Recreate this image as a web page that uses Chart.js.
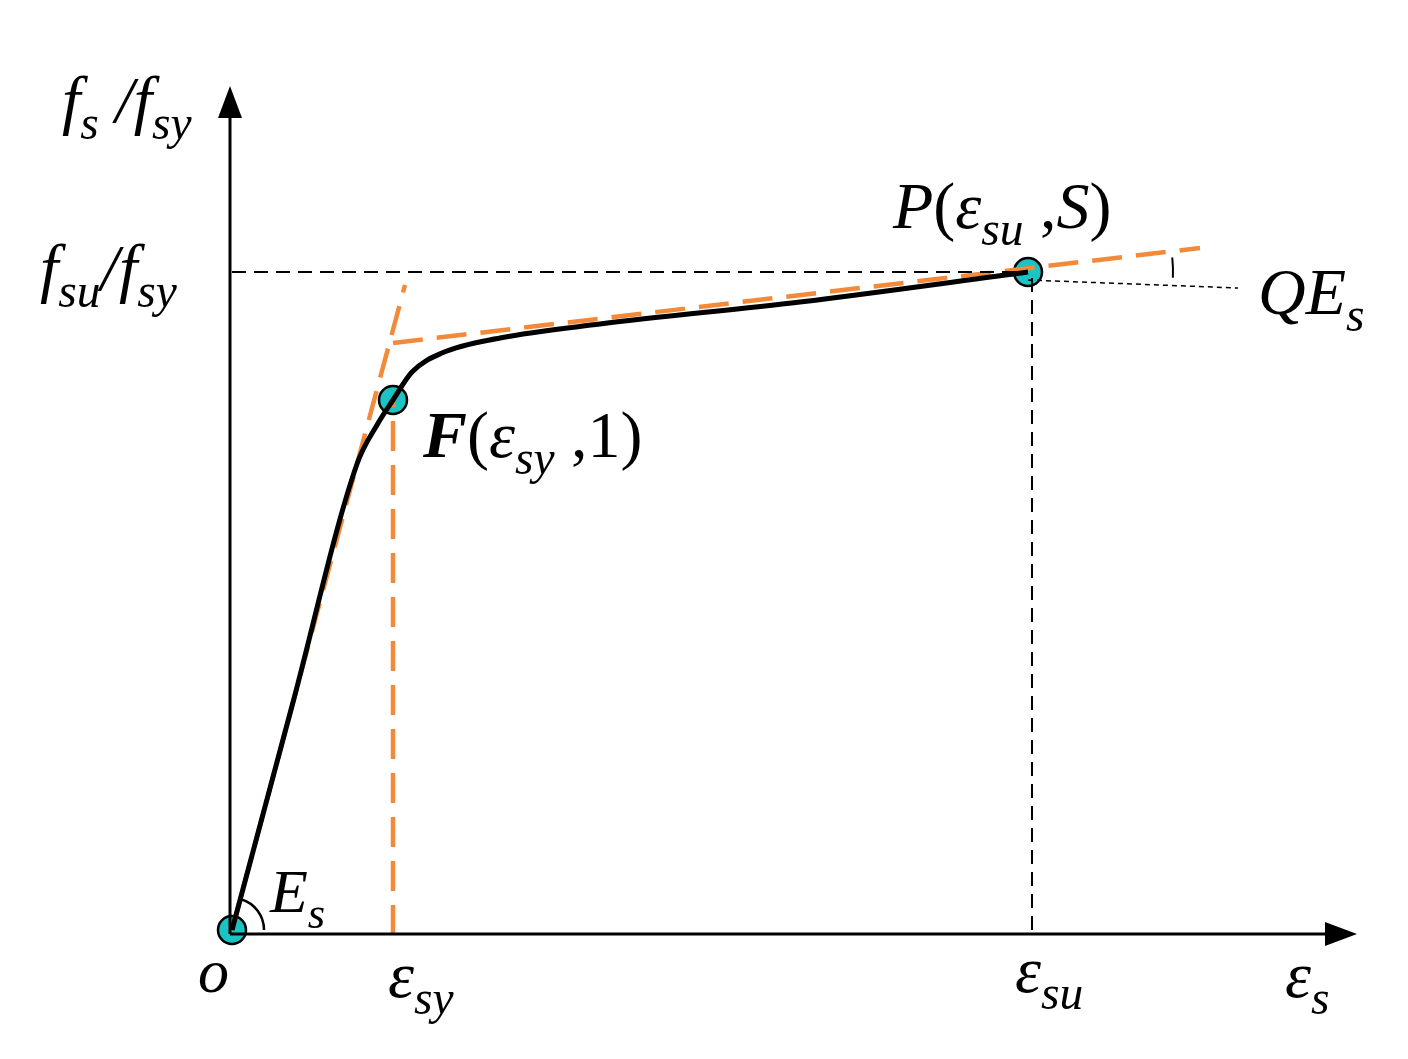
<!DOCTYPE html>
<html>
<head>
<meta charset="utf-8">
<script src="https://cdn.jsdelivr.net/npm/chart.js@4/dist/chart.umd.min.js"></script>
<style>
  html, body { margin: 0; padding: 0; background: #fff; }
  #wrap { width: 1408px; height: 1059px; }
</style>
</head>
<body>
<div id="wrap"><canvas id="c"></canvas></div>
<script>
// schematic units: x = strain, y = stress (arbitrary, diagram scale)
const curveX = [0, 60, 125, 145, 161, 180, 210, 268, 368, 568, 796];
const curveY = [0, 224, 466, 505, 530, 558, 577, 592, 606, 628, 658];
const elasticX = [0, 173];
const elasticY = [0, 645];
const hardenX = [161, 968];
const hardenY = [587, 682];
const yieldX = [161, 161];
const yieldY = [-5, 530];
const fuX = [0, 796];
const fuY = [658, 658];
const esuX = [800, 800];
const esuY = [0, 658];
const qeX = [796, 1006];
const qeY = [650, 642];
const keyX = [0, 161, 796];
const keyY = [0, 530, 658];

const pts = (xs, ys) => xs.map((x, i) => ({ x, y: ys[i] }));
const orange = "#F28A3A";

const line = (data, color, width, dash, extra = {}) => ({
  data, showLine: true, borderColor: color, borderWidth: width, borderDash: dash,
  pointRadius: 0, fill: false, tension: 0, clip: false, ...extra,
});

// draw text made of [string, isSub, bold, upright] parts
function drawParts(ctx, x, y, size, parts) {
  let cx = x;
  parts.forEach(([t, sub, bold, up]) => {
    const s = sub ? size * 0.72 : size;
    ctx.font = `${up ? "" : "italic "}${bold ? "bold " : ""}${s}px "Liberation Serif", "DejaVu Serif", serif`;
    ctx.fillText(t, cx, sub ? y + size * 0.25 : y);
    cx += ctx.measureText(t).width;
  });
}

const decor = {
  id: "decor",
  afterDatasetsDraw(chart) {
    const { ctx, scales: { x, y } } = chart;
    const ox = x.getPixelForValue(0), oy = y.getPixelForValue(0);
    ctx.save();
    ctx.strokeStyle = "#000"; ctx.fillStyle = "#000"; ctx.lineWidth = 3;
    // axes
    ctx.beginPath();
    ctx.moveTo(ox - 2, oy + 4); ctx.lineTo(1330, oy + 4);
    ctx.moveTo(ox - 2, oy + 4); ctx.lineTo(ox - 2, 110);
    ctx.stroke();
    ctx.beginPath();
    ctx.moveTo(1357, oy + 4); ctx.lineTo(1325, oy - 8); ctx.lineTo(1325, oy + 16); ctx.closePath();
    ctx.moveTo(ox - 2, 86); ctx.lineTo(ox - 14, 118); ctx.lineTo(ox + 10, 118); ctx.closePath();
    ctx.fill();
    // angle arcs
    ctx.lineWidth = 2.5;
    ctx.beginPath(); ctx.arc(ox, oy, 32, -Math.atan(3.4), 0); ctx.stroke();
    ctx.lineWidth = 2;
    ctx.beginPath(); ctx.arc(1028, 272, 145, -0.1, 0.04); ctx.stroke();
    ctx.restore();
  },
  afterDraw(chart) {
    const { ctx } = chart;
    ctx.save();
    ctx.fillStyle = "#000";
    ctx.textBaseline = "alphabetic";
    drawParts(ctx, 62, 122, 66, [["f", 0], ["s", 1], [" /f", 0], ["sy", 1]]);
    drawParts(ctx, 40, 290, 66, [["f", 0], ["su", 1], ["/f", 0], ["sy", 1]]);
    drawParts(ctx, 893, 228, 66, [["P", 0], ["(", 0, 0, 1], ["ε", 0], ["su", 1], [" ,", 0, 0, 1], ["S", 0], [")", 0, 0, 1]]);
    drawParts(ctx, 1258, 314, 66, [["QE", 0], ["s", 1]]);
    drawParts(ctx, 423, 457, 66, [["F", 0, 1], ["(", 0, 0, 1], ["ε", 0], ["sy", 1], [" ,1)", 0, 0, 1]]);
    drawParts(ctx, 270, 912, 62, [["E", 0], ["s", 1]]);
    drawParts(ctx, 198, 992, 62, [["o", 0]]);
    drawParts(ctx, 388, 997, 66, [["ε", 0], ["sy", 1]]);
    drawParts(ctx, 1015, 992, 66, [["ε", 0], ["su", 1]]);
    drawParts(ctx, 1285, 997, 66, [["ε", 0], ["s", 1]]);
    ctx.restore();
  },
};

new Chart(document.getElementById("c"), {
  type: "scatter",
  data: {
    datasets: [
      line(pts(fuX, fuY), "#000", 2, [14, 8]),
      line(pts(esuX, esuY), "#000", 2, [14, 8]),
      line(pts(qeX, qeY), "#000", 1.5, [5, 4]),
      line(pts(curveX, curveY), "#000", 5, [], { cubicInterpolationMode: "monotone" }),
      line(pts(elasticX, elasticY), orange, 4.5, [30, 14]),
      line(pts(hardenX, hardenY), orange, 4.5, [30, 14]),
      line(pts(yieldX, yieldY), orange, 4.5, [30, 14]),
      {
        data: pts(keyX, keyY), showLine: false, pointRadius: 14, clip: false,
        pointBackgroundColor: "#1CC3C3", pointBorderColor: "#000", pointBorderWidth: 2.5,
      },
    ],
  },
  options: {
    responsive: true,
    maintainAspectRatio: false,
    animation: false,
    layout: { padding: { left: 232, right: 68, top: 90, bottom: 129 } },
    plugins: { legend: { display: false }, tooltip: { enabled: false } },
    scales: {
      x: { type: "linear", min: 0, max: 1108, display: false },
      y: { type: "linear", min: 0, max: 840, display: false },
    },
  },
  plugins: [decor],
});
</script>
</body>
</html>
